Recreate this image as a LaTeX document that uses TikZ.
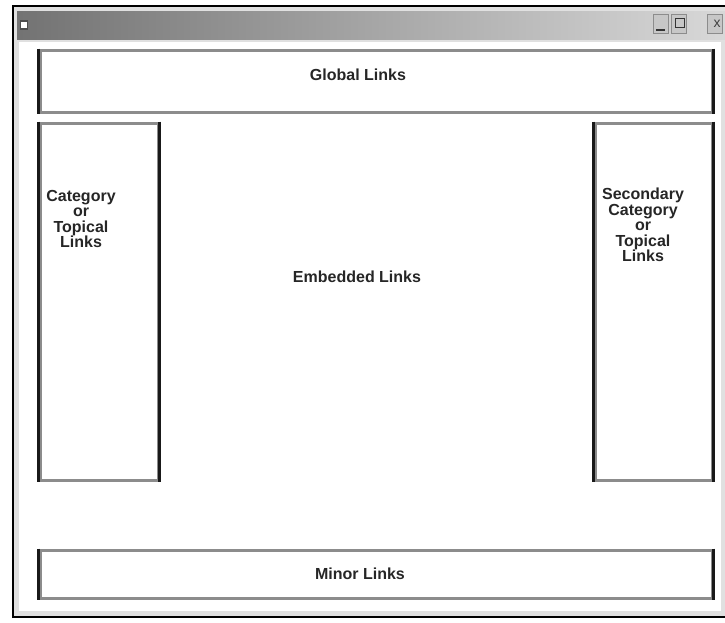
\documentclass[tikz,border=0pt]{standalone}
\usepackage{fontspec}
\setmainfont{Liberation Sans}
\usepackage{tikz}

\begin{document}
\begin{tikzpicture}[x=1pt,y=-1pt, every node/.style={font=\bfseries\fontsize{16}{15.5}\selectfont}]
\tikzset{pane/.style = {shape=rectangle,draw=black!45,line width=3pt,fill=white,inner sep=0pt}}
\tikzset{label/.style = {align=center,text=black!85}}
\tikzset{edge/.style = {line width=3pt,black!90}}
\tikzset{btn/.style = {shape=rectangle,fill=black!22,draw=black!45,line width=1pt,minimum width=15pt,minimum height=19pt,inner sep=0pt}}
\useasboundingbox (0,0) rectangle (725,622);
\fill[white] (0,0) rectangle (725,622);
% window
\fill[black!12] (12,5) rectangle (730,618);
\fill[white] (19,42) rectangle (721,611);
\draw[line width=2.5pt] (13,618) -- (13,6) -- (730,6);
\draw[line width=2.5pt] (12,617) -- (730,617);
\shade[left color=black!55, right color=black!15] (17,11) rectangle (730,39);
\node[shape=rectangle,draw=black!70,fill=white,line width=1.5pt,minimum width=7pt,minimum height=8pt,inner sep=0pt] (icon) at (24,25) {};
\node[btn] (min) at (661,24) {};
\node[btn] (max) at (679,24) {};
\node[btn] (close) at (715,24) {};
\draw[black!80,line width=1.5pt] (656,30) -- (665,30);
\node[shape=rectangle,draw=black!80,line width=1.5pt,minimum width=9pt,minimum height=9pt,inner sep=0pt] (maxglyph) at (680,23) {};
\node[font=\fontsize{14}{14}\selectfont,text=black!75] (x) at (717,24) {x};

% main
\node[pane,minimum width=672pt,minimum height=62pt] (global) at (376,81) {};
\node[pane,minimum width=118pt,minimum height=357pt] (cat) at (99,301.5) {};
\node[pane,minimum width=117pt,minimum height=357pt] (sec) at (653.5,301.5) {};
\node[pane,minimum width=672pt,minimum height=48pt] (minor) at (376,574) {};

% sides
\draw[edge] (global.north west) -- (global.south west);
\draw[edge] (global.north east) -- (global.south east);
\draw[edge] (cat.north west) -- (cat.south west);
\draw[edge] (cat.north east) -- (cat.south east);
\draw[edge] (sec.north west) -- (sec.south west);
\draw[edge] (sec.north east) -- (sec.south east);
\draw[edge] (minor.north west) -- (minor.south west);
\draw[edge] (minor.north east) -- (minor.south east);

% labels
\node[label] (globaltxt) at (358,75) {Global Links};
\node[label] (cattxt) at (81,219) {Category\\or\\Topical\\Links};
\node[label] (sectxt) at (643,225) {Secondary\\Category\\or\\Topical\\Links};
\node[label] (embtxt) at (357,277) {Embedded Links};
\node[label] (minortxt) at (360,574) {Minor Links};

\end{tikzpicture}
\end{document}
